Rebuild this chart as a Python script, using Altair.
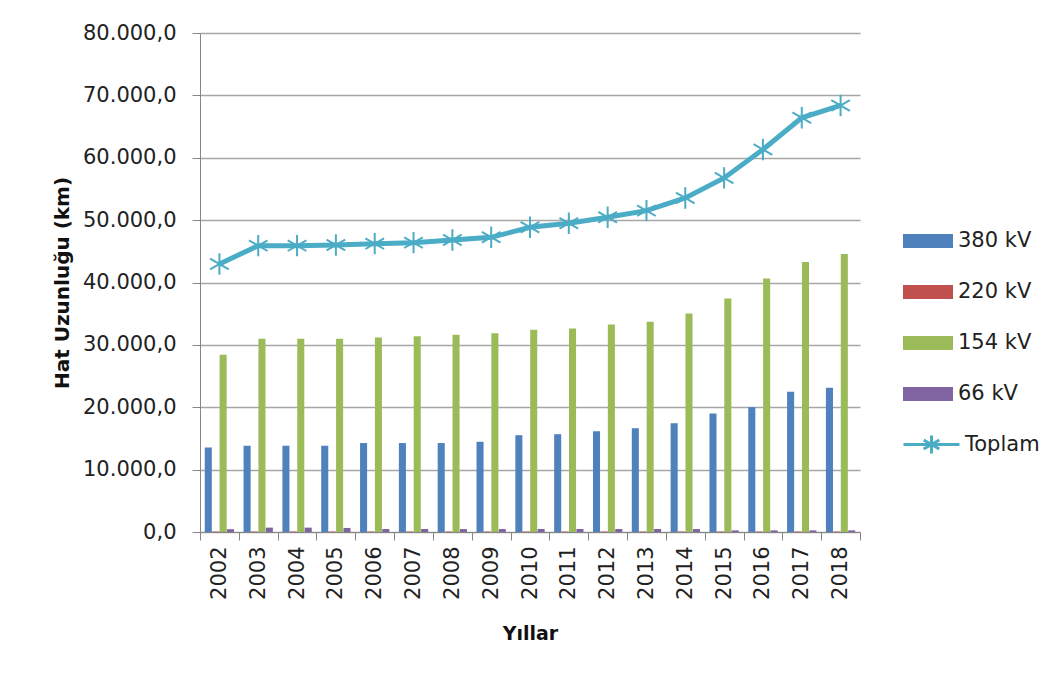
import altair as alt
import pandas as pd

years = [str(y) for y in range(2002, 2019)]
series = ["380 kV", "220 kV", "154 kV", "66 kV"]
colors = ["#4F81BD", "#C0504D", "#9BBB59", "#8064A2"]

kv380 = [13550, 13830, 13830, 13830, 14260, 14260, 14260, 14470, 15520,
         15680, 16160, 16640, 17440, 18990, 20010, 22470, 23110]
kv220 = [85, 85, 85, 85, 85, 85, 85, 85, 85, 85, 85, 85, 85, 85, 85, 85, 85]
kv154 = [28400, 30980, 31000, 31000, 31190, 31400, 31620, 31880, 32420,
         32640, 33280, 33700, 35040, 37450, 40660, 43290, 44570]
kv66 = [450, 700, 700, 650, 480, 480, 470, 470, 480, 480, 480, 480, 470,
        260, 260, 260, 260]
toplam = [42970, 45910, 45910, 46020, 46230, 46390, 46820, 47240, 48850,
          49490, 50450, 51520, 53560, 56770, 61320, 66400, 68380]
y_ticks = [0, 10000, 20000, 30000, 40000, 50000, 60000, 70000, 80000]

rows = []
for name, vals in zip(series, [kv380, kv220, kv154, kv66]):
    for y, v in zip(years, vals):
        rows.append({"yil": y, "seri": name, "deger": v})
bars_df = pd.DataFrame(rows)
line_df = pd.DataFrame({"yil": years, "deger": toplam, "ad": ["Toplam"] * len(years)})

FONT = "DejaVu Sans"
AX = "#868686"
LINE = "#4BACC6"

x_enc = alt.X(
    "yil:O",
    scale=alt.Scale(paddingInner=0, paddingOuter=0),
    axis=alt.Axis(
        title="Yıllar", labelAngle=270, tickBand="extent", tickSize=8,
        tickColor=AX, domainColor=AX, labelFontSize=21, labelColor="#222222",
        labelPadding=6, titleFontSize=19, titleFontWeight="bold",
        titleColor="#111111", titlePadding=25, grid=False,
    ),
)
y_enc = alt.Y(
    "deger:Q",
    scale=alt.Scale(domain=[0, 80000], nice=False),
    axis=alt.Axis(
        values=y_ticks,
        labelExpr="datum.value == 0 ? '0,0' : format(datum.value / 1000, 'd') + '.000,0'",
        tickSize=8, tickColor=AX, domainColor=AX, labelFontSize=21,
        labelColor="#222222", labelPadding=16, grid=True, gridColor="#A6A6A6",
        gridWidth=1.3, title="Hat Uzunluğu (km)", titleFontSize=20,
        titleFontWeight="bold", titleColor="#111111", titlePadding=10,
    ),
)

bars = alt.Chart(bars_df).mark_bar().encode(
    x=x_enc,
    y=y_enc,
    xOffset=alt.XOffset("seri:N", sort=series,
                        scale=alt.Scale(domain=series, paddingOuter=0.64, paddingInner=0.05)),
    fill=alt.Fill(
        "seri:N",
        sort=series,
        scale=alt.Scale(domain=series, range=colors),
        legend=alt.Legend(
            title=None, orient="none", legendX=703, legendY=183, padding=0,
            symbolType="M-1,-0.28H1V0.28H-1Z", symbolSize=2500,
            symbolStrokeWidth=0, labelFontSize=21, labelColor="#222222",
            labelFont=FONT, labelOffset=5, rowPadding=16,
        ),
    ),
)

line = alt.Chart(line_df).mark_line(strokeWidth=5).encode(
    x=alt.X("yil:O"),
    y=alt.Y("deger:Q"),
    stroke=alt.Stroke(
        "ad:N",
        scale=alt.Scale(domain=["Toplam"], range=[LINE]),
        legend=alt.Legend(
            title=None, orient="none", legendX=702, legendY=382, padding=0,
            symbolType="M-1,0H1M0,-0.32V0.32M-0.28,-0.16L0.28,0.16M-0.28,0.16L0.28,-0.16",
            symbolSize=3136, symbolStrokeWidth=3, labelFontSize=21,
            labelColor="#222222", labelFont=FONT, labelOffset=4,
        ),
    ),
)

stars = alt.Chart(line_df).mark_point(
    shape="M0,-1V1M-0.87,-0.5L0.87,0.5M-0.87,0.5L0.87,-0.5",
    filled=False, size=460, strokeWidth=2, color=LINE, opacity=1,
).encode(x=alt.X("yil:O"), y=alt.Y("deger:Q"))

chart = alt.layer(bars, line, stars).properties(
    width=660, height=499,
    autosize=alt.AutoSizeParams(type="none"),
    padding={"left": 192, "top": 25, "right": 180, "bottom": 140},
).configure(font=FONT).configure_view(stroke=None)

chart.save("out.html", embed_options={"renderer": "svg", "actions": False})
